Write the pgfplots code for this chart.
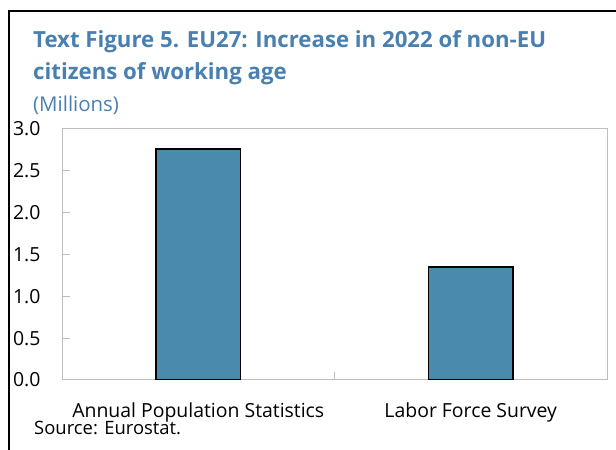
\documentclass[border=0pt]{standalone}
\usepackage{pgfplots}
\pgfplotsset{compat=1.18}
\usepackage{fontspec}
\setmainfont{Open Sans}
\definecolor{titleblue}{RGB}{74,128,176}
\definecolor{barblue}{RGB}{74,139,173}
\definecolor{axisgray}{RGB}{190,190,190}
\begin{document}
\begin{tikzpicture}[x=1bp,y=1bp]
\path[use as bounding box] (0,0) rectangle (616,450);
\draw[line width=1.2bp] (9,0) -- (9,439) -- (616,439);
\node[anchor=base west, inner sep=0, text=titleblue, font=\fontsize{22.3}{26}\selectfont\bfseries] at (33,402) {Text Figure 5. EU27: Increase in 2022 of non-EU};
\node[anchor=base west, inner sep=0, text=titleblue, font=\fontsize{22.3}{26}\selectfont\bfseries] at (33,370) {citizens of working age};
\node[anchor=base west, inner sep=0, text=titleblue, font=\fontsize{20.5}{24}\selectfont] at (33,338) {(Millions)};
\node[anchor=base west, inner sep=0, font=\fontsize{18.5}{22}\selectfont] at (34,15) {Source: Eurostat.};
\begin{axis}[
  at={(62bp,70bp)}, anchor=south west,
  width=545bp, height=251bp, scale only axis,
  xmin=-0.5, xmax=1.5, ymin=0, ymax=3,
  axis line style={axisgray, line width=1bp},
  ytick={0,0.5,...,3},
  yticklabel style={/pgf/number format/fixed, /pgf/number format/fixed zerofill, /pgf/number format/precision=1, font=\fontsize{19.5}{22}\selectfont, anchor=east, xshift=-18bp},
  /pgf/number format/assume math mode=true,
  ytick pos=left,
  tick align=inside,
  major tick length=8bp,
  tick style={axisgray, line width=1bp},
  xtick={0,1},
  xticklabels={Annual Population Statistics, Labor Force Survey},
  xtick pos=bottom,
  x tick style={draw=none},
  xticklabel style={font=\fontsize{19.5}{22}\selectfont, anchor=base, yshift=-38bp},
  extra x ticks={0.5},
  extra x tick labels={},
  extra x tick style={x tick style={draw=axisgray, line width=1bp}, major tick length=8bp},
]
\addplot[ybar, bar width=0.31, fill=barblue, draw=black, line width=1.5bp] coordinates {(0,2.76) (1,1.35)};
\end{axis}
\end{tikzpicture}
\end{document}
